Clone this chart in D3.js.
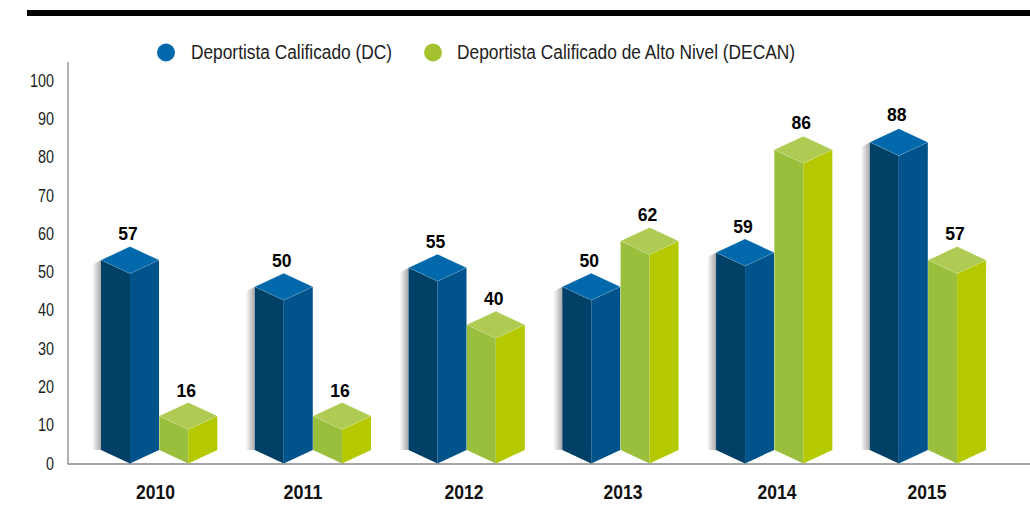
<!DOCTYPE html>
<html><head><meta charset="utf-8">
<script src="https://cdn.jsdelivr.net/npm/d3@7"></script>
<style>html,body{margin:0;padding:0;background:#fff}svg{display:block;font-family:"Liberation Sans",Arial,sans-serif}</style>
</head><body><div id="c"></div>
<script>
const years=["2010","2011","2012","2013","2014","2015"];
const dcValues=[57,50,55,50,59,88];
const decanValues=[16,16,40,62,86,57];
const seriesNames=["Deportista Calificado (DC)","Deportista Calificado de Alto Nivel (DECAN)"];
const yTicks=[0,10,20,30,40,50,60,70,80,90,100];

const W=1030,H=505;
const svg=d3.select("#c").append("svg").attr("width",W).attr("height",H);
const defs=svg.append("defs");
const g=defs.append("linearGradient").attr("id","sh");
g.append("stop").attr("offset","0").attr("stop-color","#fff");
g.append("stop").attr("offset","1").attr("stop-color","#a8a8a8");

svg.append("rect").attr("x",27).attr("y",10).attr("width",W-27).attr("height",6).attr("fill","#000");

const yAxisScale=d3.scaleLinear().domain([0,100]).range([463,80]);
const yBar=d3.scaleLinear().domain([0,100]).range([463.5,83]);
const xDC=d3.scalePoint().domain(years).range([130,898.8]);
const xLabel=d3.scaleOrdinal(years,[155.5,303,464,623,777,927]);
const hw=29,depth=13.5;

const cols=[{top:"#0068ab",left:"#003f66",right:"#00538b"},{top:"#afcb53",left:"#99bf3c",right:"#b4c900"}];
const p=a=>a.map(q=>q.join(",")).join(" ");

function drawBars(values,si){
  const c=cols[si],off=si*58.3;
  const grp=svg.append("g").selectAll("g").data(values).join("g");
  grp.each(function(v,i){
    const s=d3.select(this),cx=xDC(years[i])+off,t=yBar(v),b=yBar(0);
    if(si===0) s.append("polygon").attr("points",p([[cx-hw-9,t+depth+5],[cx-hw,t+depth],[cx-hw,b-depth],[cx-hw-9,b-depth]])).attr("fill","url(#sh)");
    s.append("polygon").attr("points",p([[cx-hw,t+depth],[cx,t+2*depth],[cx,b],[cx-hw,b-depth]])).attr("fill",c.left);
    s.append("polygon").attr("points",p([[cx+hw,t+depth],[cx,t+2*depth],[cx,b],[cx+hw,b-depth]])).attr("fill",c.right);
    s.append("polygon").attr("points",p([[cx,t],[cx+hw,t+depth],[cx,t+2*depth],[cx-hw,t+depth]])).attr("fill",c.top)
      .attr("stroke","#fff").attr("stroke-opacity",.3).attr("stroke-width",.5);
    s.append("text").attr("x",cx-2).attr("y",yAxisScale(v)-11).attr("dy","0.36em").attr("text-anchor","middle")
      .attr("font-size",18).attr("font-weight","bold").attr("fill","#000")
      .attr("textLength",19.5).attr("lengthAdjust","spacingAndGlyphs").text(v);
  });
}

svg.append("line").attr("x1",68).attr("x2",68).attr("y1",62).attr("y2",464).attr("stroke","#999").attr("stroke-width",1.5);
svg.append("line").attr("x1",67.5).attr("x2",W).attr("y1",464).attr("y2",464).attr("stroke","#888").attr("stroke-width",1.5);

drawBars(dcValues,0);
drawBars(decanValues,1);

svg.append("g").selectAll("text").data(yTicks).join("text")
  .attr("x",54).attr("y",d=>yAxisScale(d)).attr("dy","0.36em").attr("text-anchor","end")
  .attr("font-size",18.5).attr("fill","#222").attr("textLength",d=>d===100?24:d===0?8:16).attr("lengthAdjust","spacingAndGlyphs").text(d=>d);

svg.append("g").selectAll("text").data(years).join("text")
  .attr("x",d=>xLabel(d)).attr("y",499).attr("text-anchor","middle")
  .attr("font-size",20).attr("font-weight","bold").attr("fill","#111").attr("textLength",39).attr("lengthAdjust","spacingAndGlyphs").text(d=>d);

const legX=[166,433],legT=[191,457],legL=[201,338];
seriesNames.forEach((n,i)=>{
  svg.append("circle").attr("cx",legX[i]).attr("cy",52.5).attr("r",9).attr("fill",i?"#a5c330":cols[0].top);
  svg.append("text").attr("x",legT[i]).attr("y",59).attr("font-size",19.5).attr("fill","#222")
    .attr("textLength",legL[i]).attr("lengthAdjust","spacingAndGlyphs").text(n);
});
</script></body></html>
